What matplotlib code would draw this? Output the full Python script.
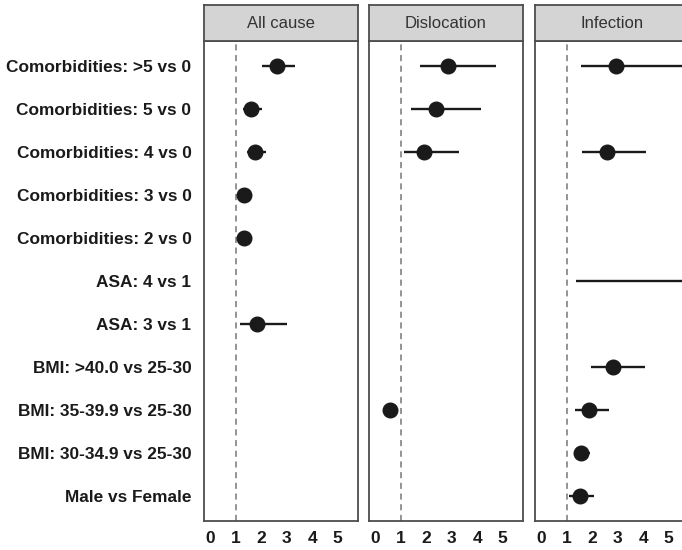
import matplotlib
matplotlib.use("Agg")
import matplotlib.pyplot as plt
import numpy as np

plt.rcParams['font.family'] = ['Liberation Sans', 'DejaVu Sans']

labels = ["Comorbidities: >5 vs 0", "Comorbidities: 5 vs 0", "Comorbidities: 4 vs 0",
          "Comorbidities: 3 vs 0", "Comorbidities: 2 vs 0", "ASA: 4 vs 1", "ASA: 3 vs 1",
          "BMI: >40.0 vs 25-30", "BMI: 35-39.9 vs 25-30", "BMI: 30-34.9 vs 25-30",
          "Male vs Female"]
panels = ["All cause", "Dislocation", "Infection"]
nan = np.nan

allcause_est = [2.6, 1.6, 1.77, 1.34, 1.31, nan, 1.85, nan, nan, nan, nan]
allcause_lo = [2.04, 1.27, 1.43, 1.1, 1.1, nan, 1.17, nan, nan, nan, nan]
allcause_hi = [3.33, 2.04, 2.2, 1.63, 1.6, nan, 3.0, nan, nan, nan, nan]

disloc_est = [2.87, 2.37, 1.91, nan, nan, nan, nan, nan, 0.57, nan, nan]
disloc_lo = [1.76, 1.39, 1.13, nan, nan, nan, nan, nan, 0.45, nan, nan]
disloc_hi = [4.74, 4.14, 3.3, nan, nan, nan, nan, nan, 0.7, nan, nan]

infect_est = [2.94, nan, 2.56, nan, nan, 7.5, nan, 2.83, 1.87, 1.54, 1.5]
infect_lo = [1.56, nan, 1.6, nan, nan, 1.37, nan, 1.96, 1.34, 1.28, 1.07]
infect_hi = [6.5, nan, 4.1, nan, nan, 12.0, nan, 4.08, 2.65, 1.93, 2.06]

xticks = [0, 1, 2, 3, 4, 5]

data = [(allcause_est, allcause_lo, allcause_hi),
        (disloc_est, disloc_lo, disloc_hi),
        (infect_est, infect_lo, infect_hi)]

W, H = 682, 550
fig = plt.figure(figsize=(W / 100, H / 100), dpi=100)

lefts = [204, 369, 535]
pw = 154
top_px, bot_px = 41, 521
strip_top = 5
n = len(labels)
ypos = np.arange(n, 0, -1)

border = '#4d4d4d'
for i, (name, (est, lo, hi)) in enumerate(zip(panels, data)):
    ax = fig.add_axes([lefts[i] / W, 1 - bot_px / H, pw / W, (bot_px - top_px) / H])
    ax.axvline(1, color='#777777', linestyle=(0, (4, 3)), linewidth=1.1, zorder=1)
    est = np.array(est, float); lo = np.array(lo, float); hi = np.array(hi, float)
    for y, e, l, h in zip(ypos, est, lo, hi):
        if not np.isnan(l):
            ax.plot([l, h], [y, y], color='#1a1a1a', linewidth=1.7, zorder=2, solid_capstyle='butt')
        if not np.isnan(e):
            ax.plot([e], [y], 'o', color='#1a1a1a', markersize=10.5, zorder=3)
    ax.set_xlim(-0.25, 5.8)
    ax.set_ylim(0.42, n + 0.58)
    ax.set_xticks(xticks)
    ax.set_xticklabels([str(t) for t in xticks], fontsize=12.5, fontweight='bold', color='#1a1a1a')
    ax.tick_params(axis='x', length=0, pad=7)
    if i == 0:
        ax.set_yticks(ypos)
        ax.set_yticklabels(labels, fontsize=12.4, fontweight='bold', color='#1a1a1a')
        ax.tick_params(axis='y', length=0, pad=9)
    else:
        ax.set_yticks([])
    for s in ax.spines.values():
        s.set_color(border)
        s.set_linewidth(1.3)
    # strip
    sax = fig.add_axes([lefts[i] / W, 1 - top_px / H, pw / W, (top_px - strip_top) / H])
    sax.set_facecolor('#d4d4d4')
    sax.set_xticks([]); sax.set_yticks([])
    for s in sax.spines.values():
        s.set_color(border)
        s.set_linewidth(1.3)
    sax.text(0.5, 0.5, name, ha='center', va='center', fontsize=12, color='#333333',
             transform=sax.transAxes)

fig.savefig("out.png", dpi=100)
